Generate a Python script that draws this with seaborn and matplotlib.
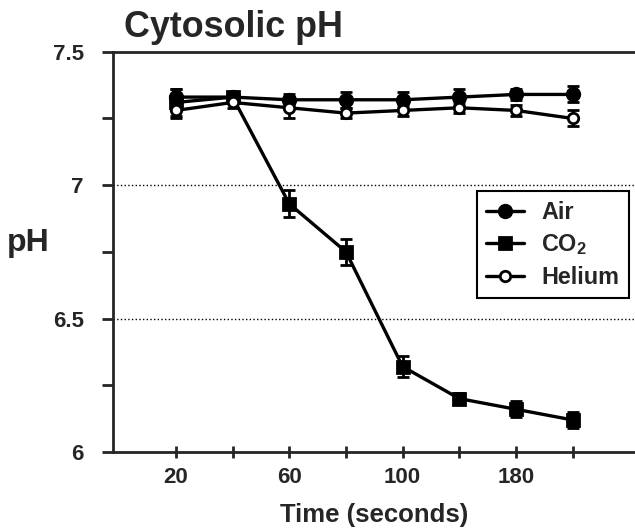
import numpy as np
import matplotlib
matplotlib.use('Agg')
import matplotlib.pyplot as plt
import seaborn as sns

# Data
time_labels = ['20', '40', '60', '80', '100', '140', '180', '240']
shown_labels = ['20', '', '60', '', '100', '', '180', '']

air = [7.33, 7.33, 7.32, 7.32, 7.32, 7.33, 7.34, 7.34]
air_err = [0.03, 0.02, 0.02, 0.03, 0.03, 0.03, 0.02, 0.03]

co2 = [7.31, 7.33, 6.93, 6.75, 6.32, 6.20, 6.16, 6.12]
co2_err = [0.05, 0.02, 0.05, 0.05, 0.04, 0.02, 0.03, 0.03]

helium = [7.28, 7.31, 7.29, 7.27, 7.28, 7.29, 7.28, 7.25]
helium_err = [0.03, 0.02, 0.04, 0.02, 0.02, 0.02, 0.02, 0.03]

sns.set_style('ticks')
plt.rcParams['font.family'] = ['Liberation Sans', 'DejaVu Sans']
plt.rcParams['font.weight'] = 'bold'
plt.rcParams['mathtext.fontset'] = 'custom'
plt.rcParams['mathtext.rm'] = 'Liberation Sans:bold'
plt.rcParams['mathtext.bf'] = 'Liberation Sans:bold'

pos = np.arange(len(time_labels))

fig = plt.figure(figsize=(6.35, 5.28), dpi=100)
ax = fig.add_axes([0.178, 0.144, 0.822, 0.758])

# error bars first so the markers sit on top
for vals, errs in [(air, air_err), (co2, co2_err), (helium, helium_err)]:
    ax.errorbar(pos, vals, yerr=errs, fmt='none', ecolor='black',
                elinewidth=2, capsize=4, capthick=2, zorder=2)

series = [
    ('Air', air, 'o', 'black', 9),
    ('CO$_2$', co2, 's', 'black', 9),
    ('Helium', helium, 'o', 'white', 7.5),
]
for name, vals, mk, face, ms in series:
    sns.lineplot(x=pos, y=vals, label=name, color='black', linewidth=2.4,
                 marker=mk, markersize=ms, markerfacecolor=face,
                 markeredgecolor='black', markeredgewidth=2, ax=ax, zorder=3)

ax.set_xlim(-1.11, 8.1)
ax.set_ylim(6, 7.5)
ax.set_xticks(pos)
ax.set_xticklabels(shown_labels, fontsize=16, fontweight='bold')
ax.set_yticks([6, 6.5, 7, 7.5])
ax.set_yticklabels(['6', '6.5', '7', '7.5'], fontsize=16, fontweight='bold')
ax.set_yticks([6.25, 6.75, 7.25], minor=True)
ax.tick_params(axis='y', which='both', direction='out', length=8, width=2, pad=13)
ax.tick_params(axis='x', direction='inout', length=9, width=2, pad=6.5)
ax.yaxis.grid(True, which='major', linestyle=':', color='black', linewidth=1)

for side in ['left', 'bottom', 'top']:
    ax.spines[side].set_linewidth(2)
ax.spines['right'].set_visible(False)

ax.set_xlabel('Time (seconds)', fontsize=18.5, fontweight='bold', va='baseline')
ax.xaxis.set_label_coords(0.5, -0.176)
ax.set_ylabel('pH', fontsize=23, fontweight='bold', rotation=0,
              ha='center', va='center')
ax.yaxis.set_label_coords(-0.163, 0.523)
fig.text(0.196, 0.93, 'Cytosolic pH', fontsize=25.8, fontweight='bold',
         ha='left', va='baseline')

leg = ax.legend(loc='upper left', bbox_to_anchor=(0.697, 0.651),
                frameon=True, fancybox=False, edgecolor='black', framealpha=1,
                prop={'weight': 'bold', 'size': 16.8}, handlelength=1.63,
                borderpad=0.4, labelspacing=0.37, handletextpad=0.73,
                borderaxespad=0)
leg.get_frame().set_linewidth(1.5)

fig.savefig('out.png', dpi=100)
